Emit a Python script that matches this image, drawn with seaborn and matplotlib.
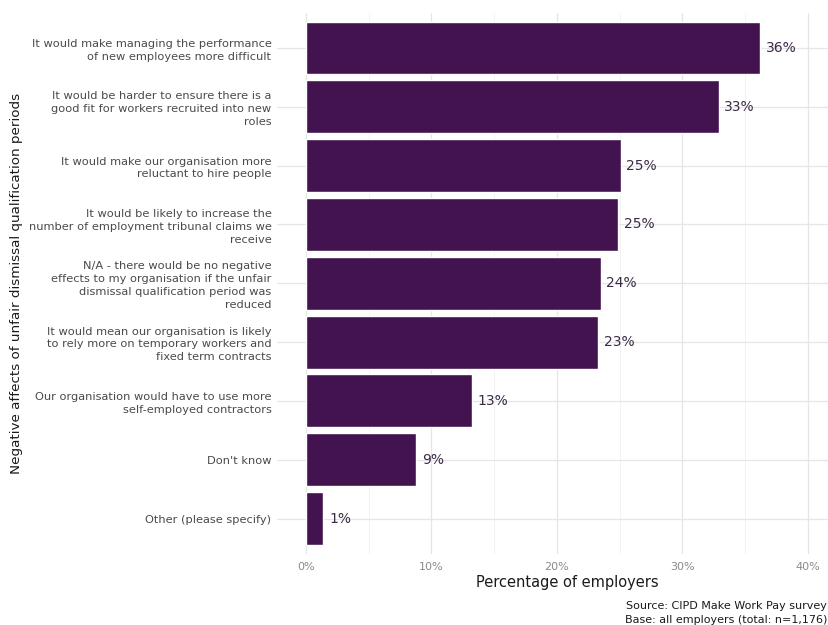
import matplotlib
matplotlib.use("Agg")
import matplotlib.pyplot as plt
import seaborn as sns
import pandas as pd

categories = [
    "It would make managing the performance\nof new employees more difficult",
    "It would be harder to ensure there is a\ngood fit for workers recruited into new\nroles",
    "It would make our organisation more\nreluctant to hire people",
    "It would be likely to increase the\nnumber of employment tribunal claims we\nreceive",
    "N/A - there would be no negative\neffects to my organisation if the unfair\ndismissal qualification period was\nreduced",
    "It would mean our organisation is likely\nto rely more on temporary workers and\nfixed term contracts",
    "Our organisation would have to use more\nself-employed contractors",
    "Don't know",
    "Other (please specify)",
]
values = [36.2, 32.9, 25.1, 24.9, 23.5, 23.3, 13.2, 8.8, 1.4]
value_labels = ["36%", "33%", "25%", "25%", "24%", "23%", "13%", "9%", "1%"]
xticks = [0, 10, 20, 30, 40]
xtick_labels = ["0%", "10%", "20%", "30%", "40%"]

df = pd.DataFrame({"category": categories, "value": values})

sns.set_theme(style="whitegrid")
plt.rcParams["font.family"] = ["DejaVu Sans"]

W, H = 829, 625
fig = plt.figure(figsize=(W / 100, H / 100), dpi=100)
left_px, right_px = 277, 858
top_px, bottom_px = 12.7, 553.8
ax = fig.add_axes([left_px / W, 1 - bottom_px / H, (right_px - left_px) / W, (bottom_px - top_px) / H])

sns.barplot(data=df, x="value", y="category", orient="h", color="#42134F",
            width=0.9, saturation=1, ax=ax, order=categories)

ax.set_xticks(xticks)
ax.set_xticklabels(xtick_labels, color="#8a8a8a", fontsize=8)
ax.set_xticks([5, 15, 25, 35], minor=True)
ax.set_xlim(-2.3, 44)
ax.set_ylim(len(categories) - 1 + 0.6, -0.6)
ax.tick_params(axis="y", labelsize=8.2, labelcolor="#4a4a4a", length=0, pad=4)
ax.tick_params(axis="x", length=0, pad=6)
for lab in ax.get_yticklabels():
    lab.set_horizontalalignment("right")
    lab.set_multialignment("right")
    lab.set_linespacing(1.35)

ax.grid(True, which="major", axis="both", color="#e6e6e6", linewidth=0.9)
ax.grid(True, which="minor", axis="x", color="#f0f0f0", linewidth=0.6)
ax.set_axisbelow(True)
for s in ax.spines.values():
    s.set_visible(False)
ax.set_facecolor("white")

for i, (v, lab) in enumerate(zip(values, value_labels)):
    ax.text(v + 0.45, i, lab, va="center", ha="left", fontsize=10, color="#3a2a46")

ax.set_xlabel("Percentage of employers", fontsize=10.5, color="#1a1a1a", labelpad=2)
ax.set_ylabel("Negative affects of unfair dismissal qualification periods",
              fontsize=9.7, color="#1a1a1a")
ax.yaxis.set_label_coords((23 - left_px) / (right_px - left_px), 0.5)

fig.text(827 / W, 1 - 606 / H, "Source: CIPD Make Work Pay survey", ha="right", va="center",
         fontsize=8, color="#1a1a1a")
fig.text(827 / W, 1 - 620 / H, "Base: all employers (total: n=1,176)", ha="right", va="center",
         fontsize=8, color="#1a1a1a")

fig.savefig("out.png", dpi=100, facecolor="white")
